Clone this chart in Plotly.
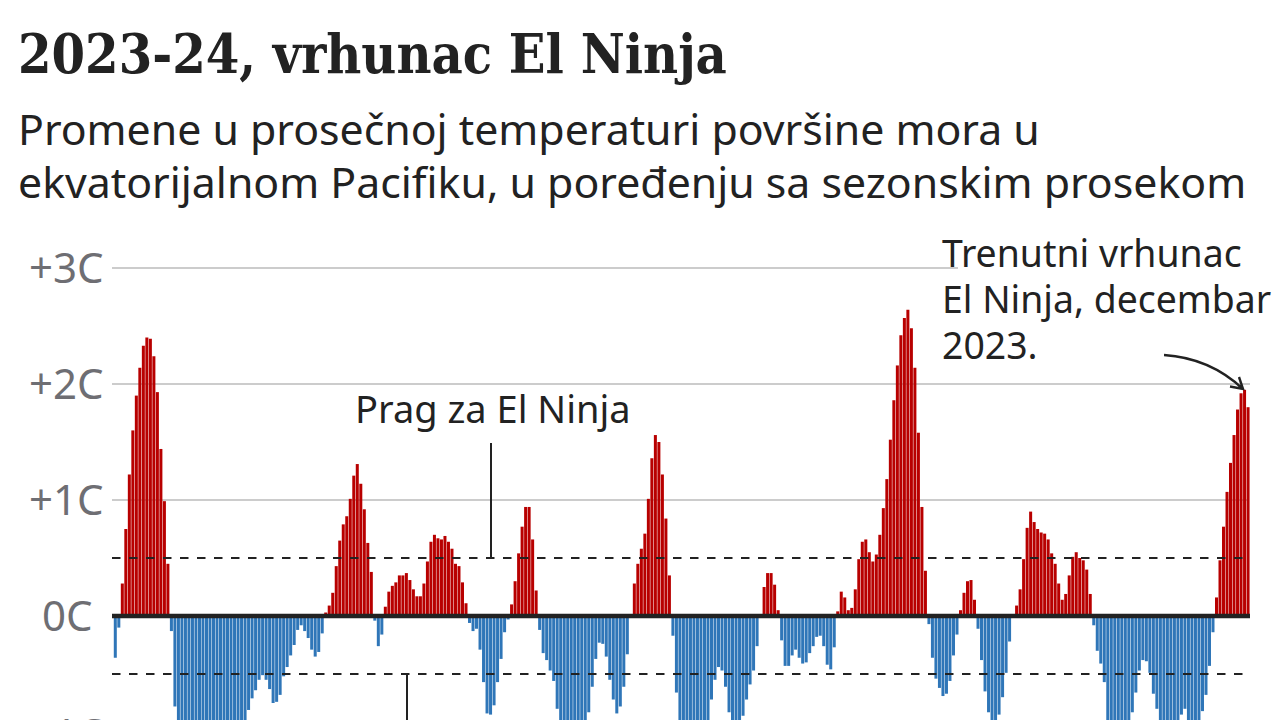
import plotly.graph_objects as go

TITLE = "2023-24, vrhunac El Ninja"
SUBTITLE = ["Promene u prosečnoj temperaturi površine mora u",
            "ekvatorijalnom Pacifiku, u poređenju sa sezonskim prosekom"]
TICK_LABELS = {3: "+3C", 2: "+2C", 1: "+1C", 0: "0C", -1: "-1C"}
THRESHOLD = 0.5

anomaly = [
 -.36,-.10,.28,.75,1.22,1.60,1.90,2.14,2.33,2.40,2.39,2.24,1.93,1.44,.99,.45,-.13,-.78,-1.0,-1.2,
 -1.4,-1.5,-1.6,-1.7,-1.6,-1.45,-1.2,-1.0,-.95,-1.0,-1.1,-1.2,-1.35,-1.5,-1.6,-1.5,-1.3,-1.0,-.81,-.71,
 -.64,-.55,-.51,-.55,-.63,-.75,-.74,-.68,-.52,-.44,-.34,-.25,-.12,-.08,-.13,-.19,-.29,-.35,-.31,-.15,
 .03,.09,.20,.43,.65,.79,.86,1.01,1.21,1.31,1.14,.92,.63,.38,-.04,-.26,-.16,.08,.21,.26,
 .29,.35,.35,.37,.31,.23,.17,.17,.28,.47,.64,.70,.67,.66,.69,.64,.58,.45,.43,.29,
 .11,-.06,-.13,-.11,-.29,-.57,-.84,-.85,-.77,-.57,-.37,-.14,-.03,.10,.30,.54,.77,.94,.94,.66,
 .22,-.12,-.32,-.38,-.47,-.56,-.80,-.95,-1.1,-1.3,-1.45,-1.5,-1.4,-1.1,-.95,-.83,-.61,-.37,-.23,-.24,
 -.35,-.55,-.72,-.84,-.78,-.61,-.33,0,.28,.45,.58,.71,1.01,1.36,1.56,1.50,1.22,.84,.35,-.17,
 -.66,-.95,-1.2,-1.4,-1.5,-1.55,-1.5,-1.4,-1.2,-1.0,-.72,-.55,-.44,-.47,-.61,-.83,-.95,-1.05,-.95,-.86,
 -.72,-.59,-.47,-.26,0,.25,.37,.37,.27,.05,-.21,-.43,-.43,-.34,-.29,-.36,-.41,-.40,-.32,-.26,
 -.18,-.17,-.26,-.42,-.46,-.27,.04,.21,.16,.05,.07,.23,.49,.64,.66,.55,.47,.53,.70,.93,
 1.18,1.52,1.86,2.16,2.42,2.57,2.64,2.48,2.14,1.58,.94,.39,-.07,-.36,-.54,-.62,-.69,-.67,-.56,-.34,
 -.16,.05,.20,.30,.31,.14,-.11,-.38,-.65,-.83,-.95,-.95,-.85,-.70,-.49,-.22,0,.09,.23,.49,
 .76,.90,.81,.75,.72,.71,.66,.54,.45,.28,.14,.19,.35,.51,.55,.50,.48,.40,.19,-.08,
 -.30,-.41,-.57,-.95,-1.0,-1.1,-1.2,-1.2,-1.1,-.95,-.83,-.66,-.47,-.38,-.39,-.49,-.67,-.80,-.92,-1.0,
 -1.05,-1.0,-.95,-.92,-.85,-.80,-.92,-1.0,-1.0,-.92,-.82,-.68,-.43,-.14,.16,.48,.77,1.07,1.32,1.56,
 1.78,1.92,1.95,1.80,
]
months = [f"{1997 + (i + 1) // 12}-{(i + 1) % 12 + 1:02d}" for i in range(len(anomaly))]

RED, BLUE, INK, GRID, GREY = "#b80000", "#2f76b8", "#222222", "#cccccc", "#6e6e73"
W, H = 1280, 720
ZERO_PX, PX_PER_C = 616.0, 116.0
BAR0_PX, BAR_PITCH = 115.3, 3.507

SANS = "Noto Sans"
SERIF = "DejaVu Serif Condensed"

def px(x): return x / W
def py(y): return 1 - y / H

fig = go.Figure(go.Bar(
    x=months, y=anomaly,
    marker=dict(color=[RED if v > 0 else BLUE for v in anomaly], line_width=0),
    width=0.86,
))

shapes = []
for v, x1 in [(3, 958), (2, 1250), (1, 1249)]:
    shapes.append(dict(type="line", layer="below", xref="paper", yref="y", x0=px(112), x1=px(x1), y0=v, y1=v,
                       line=dict(color=GRID, width=2)))
for v in (THRESHOLD, -THRESHOLD):
    shapes.append(dict(type="line", layer="above", xref="paper", yref="y", x0=px(112), x1=px(1249), y0=v, y1=v,
                       line=dict(color=INK, width=2.2, dash="8.5px,8.5px")))
shapes.append(dict(type="line", layer="above", xref="paper", yref="y", x0=px(112), x1=px(1250), y0=0, y1=0,
                   line=dict(color=INK, width=4.5)))
shapes.append(dict(type="line", layer="above", xref="paper", yref="paper", x0=px(491), x1=px(491), y0=py(443), y1=py(558),
                   line=dict(color=INK, width=2)))
shapes.append(dict(type="line", layer="above", xref="paper", yref="paper", x0=px(407), x1=px(407), y0=py(674), y1=py(720),
                   line=dict(color=INK, width=2)))
def P(x, y): return f"{px(x):.5f} {py(y):.5f}"
shapes.append(dict(type="path", layer="above", xref="paper", yref="paper",
                   path=f"M {P(1164,355)} Q {P(1210,358)} {P(1243,389)} M {P(1230,386.5)} L {P(1243,389)} L {P(1239,377)}",
                   line=dict(color=INK, width=2.4)))

def text(x, y, s, size, color=INK, font=SANS, bold=False, xanchor="left"):
    t = f"<b>{s}</b>" if bold else s
    return dict(text=t, xref="paper", yref="paper", x=px(x), y=py(y), xanchor=xanchor, yanchor="middle",
                showarrow=False, align="left", font=dict(family=font, size=size, color=color))

ann = [text(16, 55, TITLE, 53.6, font=SERIF, bold=True),
       text(16, 128, SUBTITLE[0], 42.8),
       text(16, 181, SUBTITLE[1], 42.8),
       text(353, 408, "Prag za El Ninja", 38),
       text(940, 253, "Trenutni vrhunac", 37.4),
       text(940, 298.5, "El Ninja, decembar", 37.4),
       text(940, 344, "2023.", 37.4)]
for v, s in TICK_LABELS.items():
    y = ZERO_PX - v * PX_PER_C - (0 if v < 0 else 2)
    x = 95 if v == 0 else 105.5
    ann.append(text(x, y, s, 42, color=GREY, xanchor="right"))

fig.update_layout(
    width=W, height=H, margin=dict(l=0, r=0, t=0, b=0), autosize=False,
    paper_bgcolor="white", plot_bgcolor="white", showlegend=False,
    xaxis=dict(type="category", visible=False, range=[-BAR0_PX / BAR_PITCH, (W - BAR0_PX) / BAR_PITCH]),
    yaxis=dict(visible=False, range=[(ZERO_PX - H) / PX_PER_C, ZERO_PX / PX_PER_C]),
    shapes=shapes, annotations=ann,
)
fig.write_html("out.html", config={"displayModeBar": False},
               post_script="document.body.style.margin='0';document.body.style.overflow='hidden';")
